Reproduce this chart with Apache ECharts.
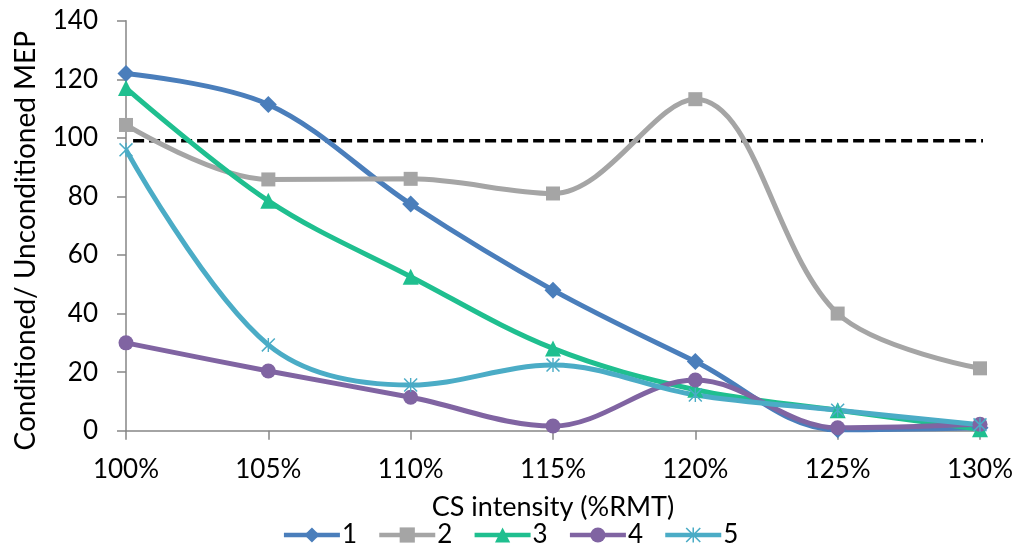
<!DOCTYPE html>
<html><head><meta charset="utf-8">
<script src="https://cdn.jsdelivr.net/npm/echarts@6/dist/echarts.min.js"></script>
<style>html,body{margin:0;padding:0;background:#fff}#c{width:1020px;height:554px}</style>
</head><body><div id="c"></div>
<script>
const categories = ['100%','105%','110%','115%','120%','125%','130%'];
const s1 = [122, 111.4, 77.4, 48, 23.6, 0.3, 1];
const s2 = [104.4, 85.8, 86, 81, 113.2, 40, 21.3];
const s3 = [117, 78.5, 52.6, 28.1, 14, 7, 0.5];
const s4 = [30, 20.4, 11.4, 1.6, 17.3, 1, 2.2];
const s5 = [95.9, 29.3, 15.6, 22.4, 12.2, 7, 2];
const refLine = [[100.25, 99], [130.9, 99]];
const yTicks = {min: 0, max: 140, interval: 20};

const star = 'path://M9,0h2v20h-2z M0,1.5l1.5,-1.5l18.5,18.5l-1.5,1.5z M18.5,0l1.5,1.5l-18.5,18.5l-1.5,-1.5z';
const font = 'Lato, "Open Sans", sans-serif';
function mk(name, data, color, symbol, size) {
  return {name, type: 'line', data, smooth: 0.35, symbol, symbolSize: size,
    lineStyle: {color, width: 5}, itemStyle: {color}, z: 3};
}
const chart = echarts.init(document.getElementById('c'));
chart.setOption({
  animation: false,
  grid: {left: 126, right: 40, top: 20.7, bottom: 123.3},
  xAxis: [{
    type: 'category', data: categories, boundaryGap: false,
    axisLine: {lineStyle: {color: '#868686', width: 1.5}},
    axisTick: {lineStyle: {color: '#868686', width: 1.5}, length: 9, alignWithLabel: true},
    axisLabel: {color: '#000', fontSize: 26, fontFamily: font, margin: 26},
    name: 'CS intensity (%RMT)', nameLocation: 'middle', nameGap: 63,
    nameTextStyle: {color: '#000', fontSize: 27, fontFamily: font}
  }, {
    type: 'value', min: 100, max: 130, show: false
  }],
  yAxis: {
    type: 'value', min: yTicks.min, max: yTicks.max, interval: yTicks.interval,
    axisLine: {show: true, lineStyle: {color: '#868686', width: 1.5}},
    axisTick: {show: true, lineStyle: {color: '#868686', width: 1.5}, length: 9},
    splitLine: {show: false},
    axisLabel: {color: '#000', fontSize: 26, fontFamily: font, margin: 28},
    name: 'Conditioned/ Unconditioned MEP', nameLocation: 'middle', nameGap: 86,
    nameTextStyle: {color: '#000', fontSize: 28, fontFamily: font, padding: [0, 30, 0, 0]}
  },
  legend: {
    bottom: 1, left: 'center', itemWidth: 56, itemHeight: 19, itemGap: 20,
    lineStyle: {width: 4.5},
    textStyle: {color: '#000', fontSize: 26, fontFamily: font, padding: [0, 0, 0, -3]},
    data: ['1','2','3','4','5']
  },
  series: [
    mk('1', s1, '#4a7ebb', 'diamond', 17),
    mk('2', s2, '#a5a5a5', 'rect', 14),
    mk('3', s3, '#1fbf8f', 'triangle', 16),
    mk('4', s4, '#8064a2', 'circle', 15),
    mk('5', s5, '#4bacc6', star, 14),
    {name: 'ref', type: 'line', xAxisIndex: 1, data: refLine, symbol: 'none', clip: false,
     lineStyle: {color: '#000', width: 3.5, type: [11, 5]}, z: 2, silent: true}
  ]
});
</script></body></html>
